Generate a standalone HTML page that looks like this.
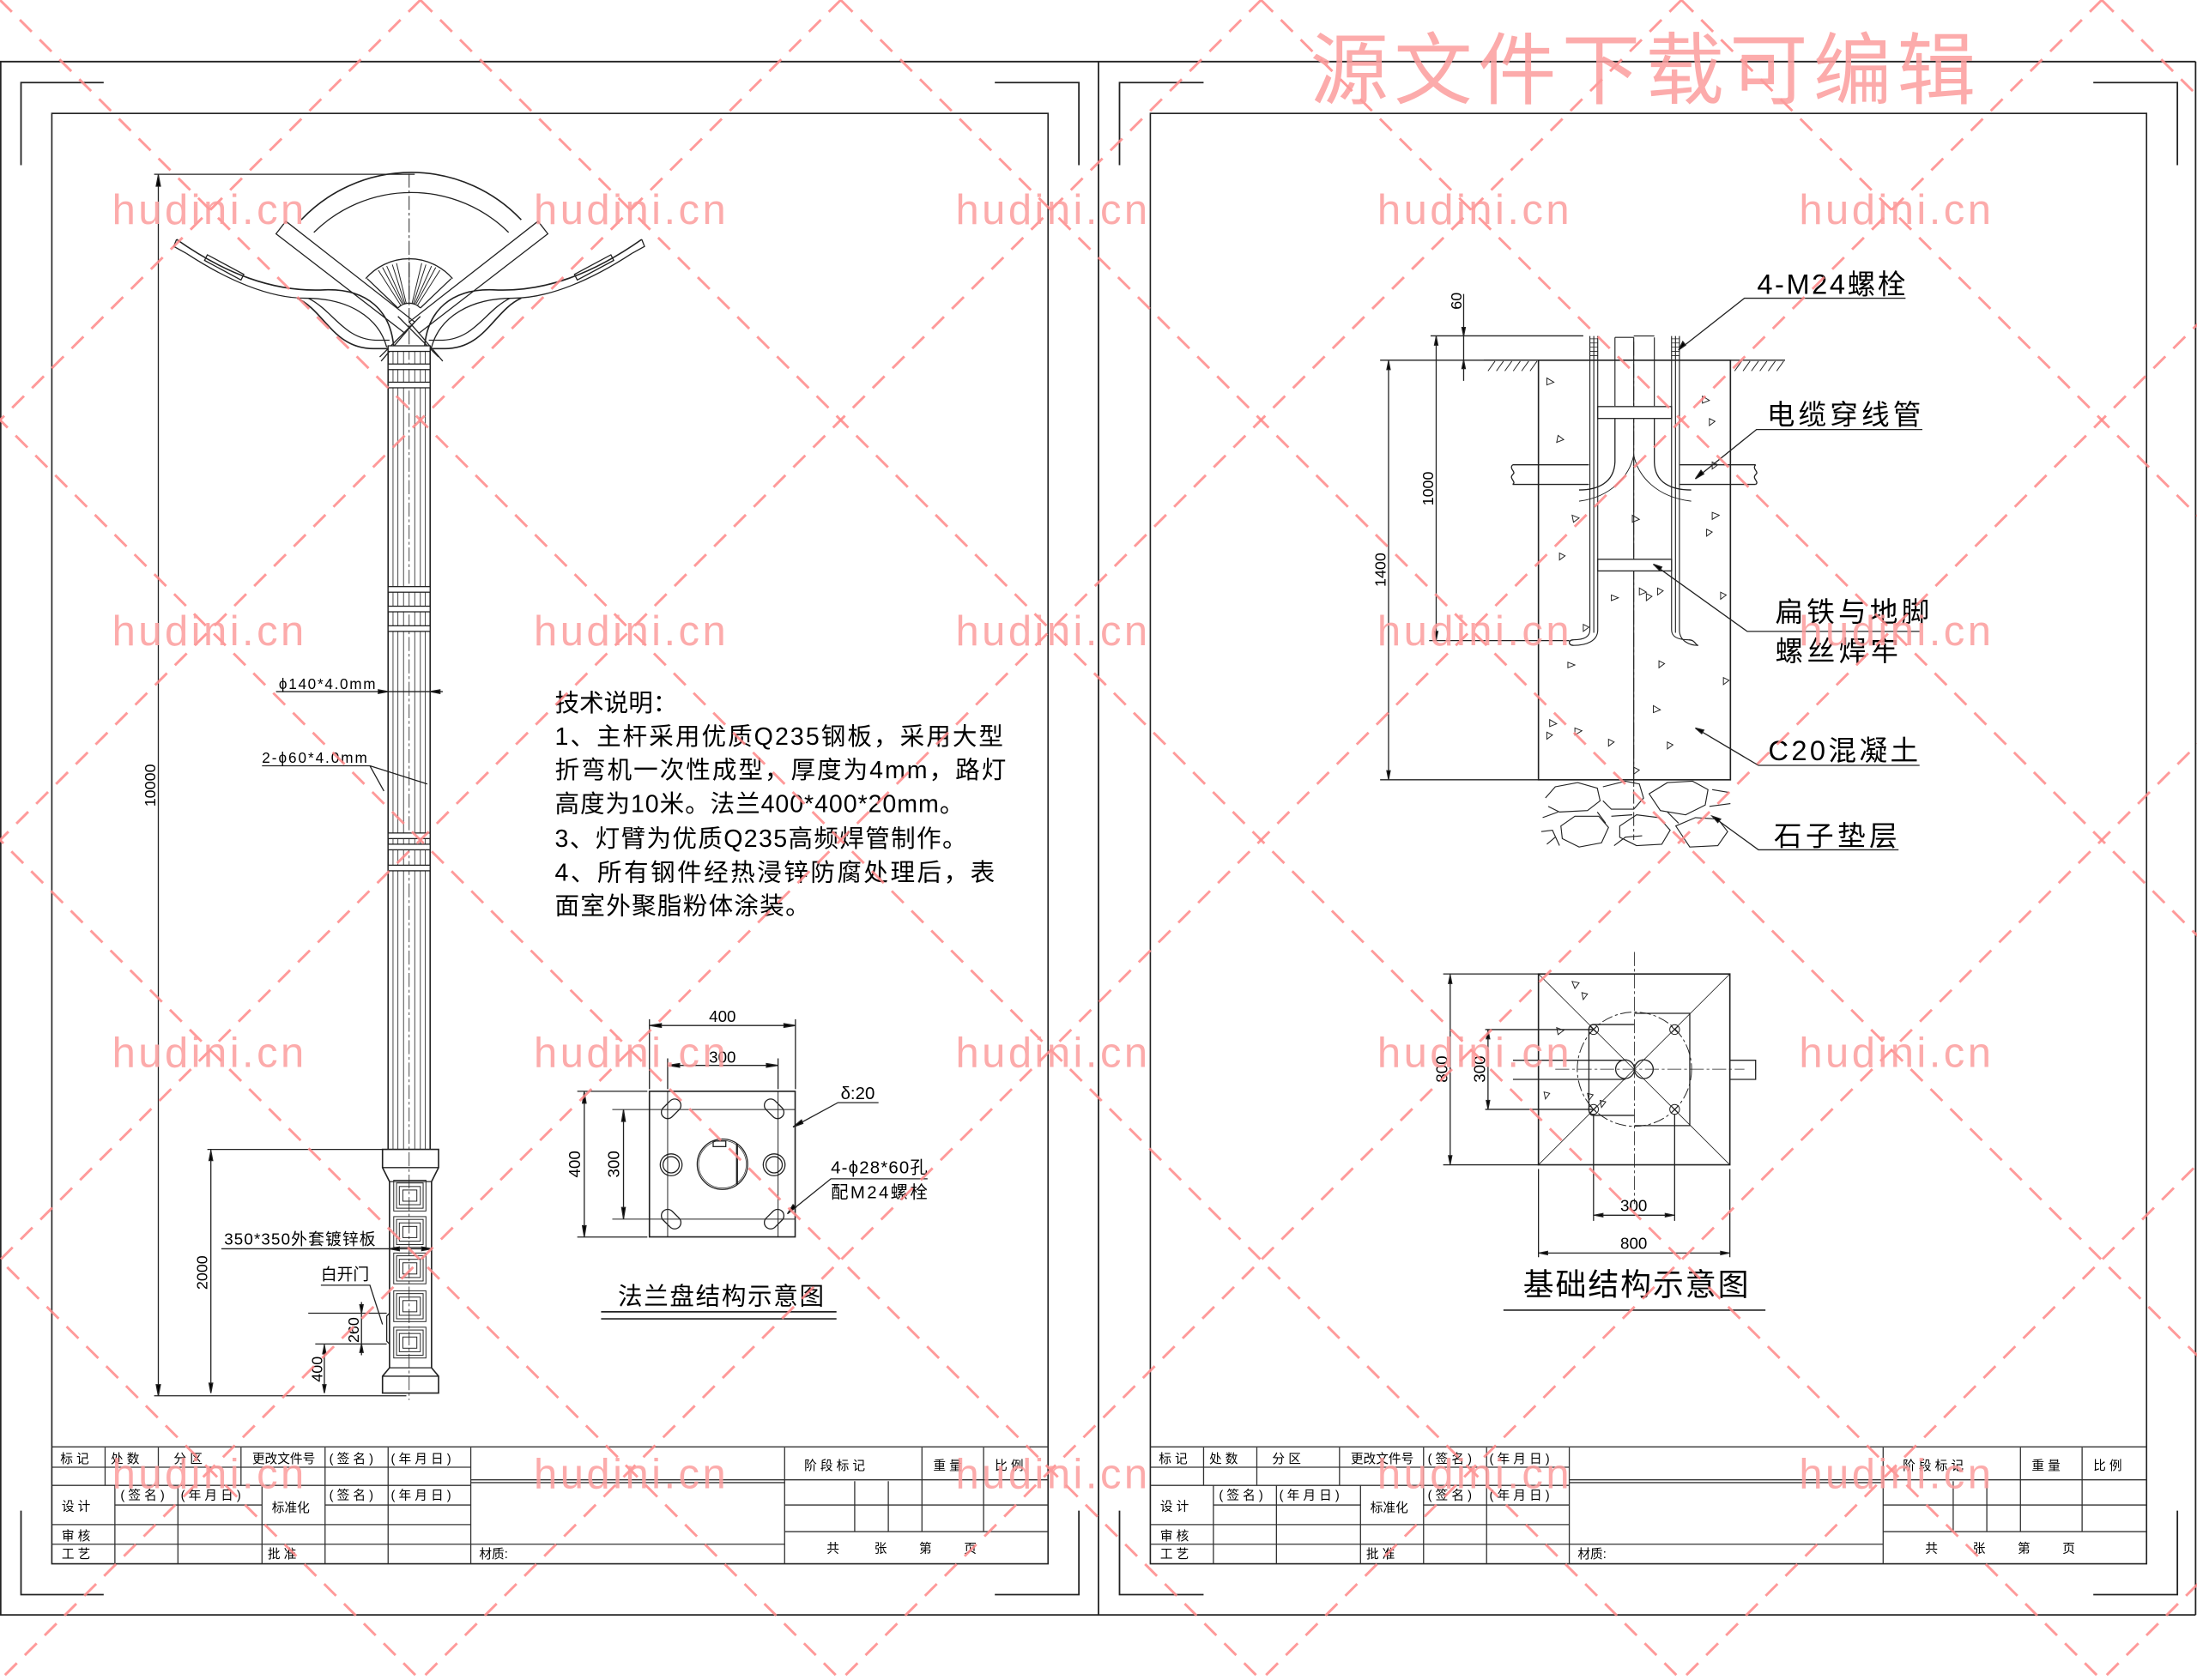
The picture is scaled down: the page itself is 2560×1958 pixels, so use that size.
<!DOCTYPE html>
<html><head><meta charset="utf-8"><style>
html,body{margin:0;padding:0;background:#fff;}
svg{display:block;}
text{font-family:"Liberation Sans","Noto Sans CJK SC",sans-serif;fill:#000;}
text.wm{fill:#fb9c9c;}
</style></head><body>
<svg width="2560" height="1958" viewBox="0 0 1568 1200" preserveAspectRatio="none" xmlns="http://www.w3.org/2000/svg">
<rect width="1568" height="1200" fill="#fff"/>
<g fill="none" stroke="#222" stroke-width="0.9">
<path d="M0,44 H1567 M0,1153.5 H1567 M0.5,44 V1153.5 M784,44 V1153.5 M1567,44 V1153.5" stroke-width="1.1"/>
<rect x="37" y="81" width="711" height="1036" stroke-width="1"/>
<rect x="821" y="81" width="711" height="1036" stroke-width="1"/>
<path d="M15,118 V59 H74 M710,59 H770 V118 M15,1079 V1139 H74 M710,1139 H770 V1079" stroke-width="1.1"/>
<path d="M799,118 V59 H859 M1494,59 H1554 V118 M799,1079 V1139 H859 M1494,1139 H1554 V1079" stroke-width="1.1"/>
</g>

<!-- TITLE BLOCK LEFT -->
<g fill="none" stroke="#333" stroke-width="0.8">
<path d="M37,1033.5 H748 M37,1048 H336 M37,1061 H336 M82,1075 H187 M232,1075 H336 M37,1089 H336 M37,1103 H560 M336,1057 H748 M336,1059 H560 M560,1075 H748 M560,1094 H748"/>
<path d="M75,1034 V1061 M113,1034 V1061 M172,1034 V1061 M232,1034 V1117 M277,1034 V1117 M336,1034 V1117 M560,1034 V1117 M82,1061 V1117 M127,1061 V1117 M187,1061 V1117 M610,1058 V1094 M634,1058 V1094 M658,1034 V1094 M702,1034 V1094"/>
</g>
<g font-size="9">
<text x="43" y="1045">标 记</text><text x="79" y="1045">处 数</text><text x="124" y="1045">分 区</text><text x="180" y="1045">更改文件号</text><text x="235" y="1045">( 签 名 )</text><text x="279" y="1045">( 年 月 日 )</text>
<text x="44" y="1079">设 计</text><text x="86" y="1071">( 签 名 )</text><text x="129" y="1071">( 年 月 日 )</text><text x="194" y="1080">标准化</text><text x="235" y="1071">( 签 名 )</text><text x="279" y="1071">( 年 月 日 )</text>
<text x="44" y="1100">审 核</text><text x="44" y="1113">工 艺</text><text x="191" y="1113">批 准</text><text x="342" y="1113">材质:</text>
<text x="574" y="1050">阶 段 标 记</text><text x="666" y="1050">重 量</text><text x="710" y="1050">比 例</text>
<text x="590" y="1109">共</text><text x="624" y="1109">张</text><text x="656" y="1109">第</text><text x="688" y="1109">页</text>
</g>
<!-- TITLE BLOCK RIGHT -->
<g transform="translate(784,0)">
<g fill="none" stroke="#333" stroke-width="0.8">
<path d="M37,1033.5 H748 M37,1048 H336 M37,1061 H336 M82,1075 H187 M232,1075 H336 M37,1089 H336 M37,1103 H560 M336,1057 H748 M336,1059 H560 M560,1075 H748 M560,1094 H748"/>
<path d="M75,1034 V1061 M113,1034 V1061 M172,1034 V1061 M232,1034 V1117 M277,1034 V1117 M336,1034 V1117 M560,1034 V1117 M82,1061 V1117 M127,1061 V1117 M187,1061 V1117 M610,1058 V1094 M634,1058 V1094 M658,1034 V1094 M702,1034 V1094"/>
</g>
<g font-size="9">
<text x="43" y="1045">标 记</text><text x="79" y="1045">处 数</text><text x="124" y="1045">分 区</text><text x="180" y="1045">更改文件号</text><text x="235" y="1045">( 签 名 )</text><text x="279" y="1045">( 年 月 日 )</text>
<text x="44" y="1079">设 计</text><text x="86" y="1071">( 签 名 )</text><text x="129" y="1071">( 年 月 日 )</text><text x="194" y="1080">标准化</text><text x="235" y="1071">( 签 名 )</text><text x="279" y="1071">( 年 月 日 )</text>
<text x="44" y="1100">审 核</text><text x="44" y="1113">工 艺</text><text x="191" y="1113">批 准</text><text x="342" y="1113">材质:</text>
<text x="574" y="1050">阶 段 标 记</text><text x="666" y="1050">重 量</text><text x="710" y="1050">比 例</text>
<text x="590" y="1109">共</text><text x="624" y="1109">张</text><text x="656" y="1109">第</text><text x="688" y="1109">页</text>
</g>
</g>

<!-- LAMP POLE -->
<g fill="none" stroke="#222" stroke-width="0.8">
<path d="M110,124.5 H296 M113,124.5 V997 M110,997 H290"/>
<path d="M113,125 l-1.5,8 h3 z M113,997 l-1.5,-8 h3 z" fill="#000"/>
<path d="M215,157 A108,108 0 0 1 372,157" stroke-width="1"/>
<path d="M224,166 A99,99 0 0 1 363,166"/>
<path d="M292,124 V250" stroke-dasharray="10 2 2 2" stroke-width="0.6"/>
<polygon points="197,167 204,158 296,230 289,238"/>
<polygon points="391,167 384,158 292,230 299,238"/>
<path d="M289,238 L272,258 M299,238 L316,258"/>
<path d="M271,255 L300,226 M313,255 L284,226"/>
<path d="M261,199 A41,41 0 0 1 323,199"/>
<path d="M284,220 A11,11 0 0 1 300,220"/>
<path d="M284,220 L262,199 M300,220 L322,199"/>
<path d="M286,218 L270,193 M288,217 L276,190 M290,217 L283,188 M292,217 L292,187 M294,217 L301,188 M296,217 L308,190 M298,218 L314,193 M287,217 L273,191 M289,217 L280,189 M295,217 L304,189 M297,217 L311,191" stroke-width="0.6"/>
<g>
<path d="M126,171 C160,195 195,209 232,207 C262,206 279,222 281,248" stroke-width="1"/>
<path d="M133,181 C162,200 192,213 218,213 C248,213 270,226 276,248"/>
<path d="M126,171 L124,176 L133,181"/>
<path d="M146,186 L172,200 L174,196 L148,182 Z"/>
<path d="M212,213 C232,222 238,250 268,249 L278,249" stroke-width="1"/>
<path d="M220,213 C238,222 245,242 268,243 L278,243"/>
</g>
<g transform="translate(584,0) scale(-1,1)">
<path d="M126,171 C160,195 195,209 232,207 C262,206 279,222 281,248" stroke-width="1"/>
<path d="M133,181 C162,200 192,213 218,213 C248,213 270,226 276,248"/>
<path d="M126,171 L124,176 L133,181"/>
<path d="M146,186 L172,200 L174,196 L148,182 Z"/>
<path d="M212,213 C232,222 238,250 268,249 L278,249" stroke-width="1"/>
<path d="M220,213 C238,222 245,242 268,243 L278,243"/>
</g>
<path d="M277,247 V821 M307,247 V821" stroke-width="1"/>
<path d="M280.5,247 V821 M284,247 V821 M288,247 V821 M296,247 V821 M300,247 V821 M303.5,247 V821" stroke-width="0.5"/>
<path d="M292,247 V1000" stroke-dasharray="10 2 2 2" stroke-width="0.5"/>
<g fill="#fff" stroke-width="0.8">
<rect x="277" y="247" width="30" height="4"/><rect x="277" y="260" width="30" height="4"/><rect x="277" y="273" width="30" height="4"/>
<rect x="277" y="419" width="30" height="4"/><rect x="277" y="433" width="30" height="4"/><rect x="277" y="447" width="30" height="4"/>
<rect x="277" y="595" width="30" height="4"/><rect x="277" y="603" width="30" height="4"/><rect x="277" y="618" width="30" height="4"/>
</g>
<path d="M273,821 H313 V834 L308,844 V977 L313,983 V995 H273 V983 L278,977 V844 L273,834 Z" stroke-width="1"/>
<path d="M273,834 H313 M278,844 H308 M278,977 H308 M273,983 H313"/>
<g stroke-width="0.6">
<rect x="281" y="843" width="23" height="22"/><rect x="283" y="845" width="19" height="18"/><rect x="285" y="847.5" width="15" height="13"/><rect x="287.5" y="850" width="10" height="8"/>
<rect x="281" y="869" width="23" height="22"/><rect x="283" y="871" width="19" height="18"/><rect x="285" y="873.5" width="15" height="13"/><rect x="287.5" y="876" width="10" height="8"/>
<rect x="281" y="895" width="23" height="22"/><rect x="283" y="897" width="19" height="18"/><rect x="285" y="899.5" width="15" height="13"/><rect x="287.5" y="902" width="10" height="8"/>
<rect x="281" y="922" width="23" height="22"/><rect x="283" y="924" width="19" height="18"/><rect x="285" y="926.5" width="15" height="13"/><rect x="287.5" y="929" width="10" height="8"/>
<rect x="281" y="948" width="23" height="22"/><rect x="283" y="950" width="19" height="18"/><rect x="285" y="952.5" width="15" height="13"/><rect x="287.5" y="955" width="10" height="8"/>
</g>
<path d="M278,938 L276,940 V958 L278,960"/>
<path d="M148,821 H273 M150.5,821 V995"/>
<path d="M150.5,822 l-1.3,7 h2.6 z M150.5,995 l-1.3,-7 h2.6 z" fill="#000"/>
<path d="M158,892 H303"/>
<path d="M278,892 l7,-1.3 v2.6 z M308,892 l-7,-1.3 v2.6 z" fill="#000"/>
<path d="M229,918 H264 L273,946"/>
<path d="M220,938 H276 M225,960 H276 M258,930 V968 M231.5,960 V995"/>
<path d="M258,938 l-1.2,-6 h2.4 z M258,960 l-1.2,6 h2.4 z M231.5,961 l-1.2,6 h2.4 z M231.5,995 l-1.2,-6 h2.4 z" fill="#000"/>
<path d="M197,494 H316"/>
<path d="M277,494 l-7,-1.3 v2.6 z M307,494 l7,-1.3 v2.6 z" fill="#000"/>
<path d="M187,547 H264 L274,565 M264,547 L305,560"/>
</g>
<g font-size="11">
<text transform="translate(111,561) rotate(-90)" text-anchor="middle">10000</text>
<text transform="translate(148,909) rotate(-90)" text-anchor="middle">2000</text>
<text transform="translate(256,950) rotate(-90)" text-anchor="middle">260</text>
<text transform="translate(230,978) rotate(-90)" text-anchor="middle">400</text>
<text x="199" y="492" font-size="10.5" textLength="69">ϕ140*4.0mm</text>
<text x="187" y="545" font-size="10.5" textLength="75">2-ϕ60*4.0mm</text>
<text x="160" y="889" font-size="11.5" textLength="108">350*350外套镀锌板</text>
<text x="229" y="914" font-size="11.5">白开门</text>
</g>

<g font-size="17.5">
<text x="396" y="508">技术说明：</text>
<text x="396" y="532" textLength="320">1、主杆采用优质Q235钢板，采用大型</text>
<text x="396" y="556" textLength="322">折弯机一次性成型，厚度为4mm，路灯</text>
<text x="396" y="580" textLength="292">高度为10米。法兰400*400*20mm。</text>
<text x="396" y="605" textLength="294">3、灯臂为优质Q235高频焊管制作。</text>
<text x="396" y="629" textLength="314">4、所有钢件经热浸锌防腐处理后，表</text>
<text x="396" y="653" textLength="182">面室外聚脂粉体涂装。</text>
</g>

<!-- FLANGE -->
<g fill="none" stroke="#222" stroke-width="0.8">
<rect x="463.5" y="779.5" width="104" height="104" stroke-width="1"/>
<path d="M476.5,779.5 V883.5 M555.3,779.5 V883.5 M437,792.5 H567.5 M437,870.8 H567.5" stroke-width="0.6"/>
<circle cx="515.6" cy="831.6" r="18"/><circle cx="515.6" cy="831.6" r="17" stroke-width="0.4"/>
<rect x="509" y="815" width="9" height="4"/>
<path d="M526,817 V846" stroke-width="1.4"/>
<circle cx="479" cy="832" r="7.8"/><circle cx="479" cy="832" r="5.8"/>
<circle cx="552.5" cy="832" r="7.8"/><circle cx="552.5" cy="832" r="5.8"/>
<g transform="translate(479,792) rotate(-45)"><rect x="-8" y="-4.5" width="16" height="9" rx="4.5"/></g>
<g transform="translate(552.5,792) rotate(45)"><rect x="-8" y="-4.5" width="16" height="9" rx="4.5"/></g>
<g transform="translate(479,870.8) rotate(45)"><rect x="-8" y="-4.5" width="16" height="9" rx="4.5"/></g>
<g transform="translate(552.5,870.8) rotate(-45)"><rect x="-8" y="-4.5" width="16" height="9" rx="4.5"/></g>
<path d="M463.5,728 V778 M567.7,728 V778 M476.5,756 V778 M555.3,756 V778 M463.5,732.5 H567.7 M476.5,761 H555.3 M412,779.5 H462 M412,883.6 H462 M417,779.5 V883.6 M445,792.5 V870.8"/>
<path d="M464,732.5 l8,-1.3 v2.6 z M567.5,732.5 l-8,-1.3 v2.6 z M477,761 l8,-1.3 v2.6 z M555,761 l-8,-1.3 v2.6 z" fill="#000"/>
<path d="M417,780 l-1.3,8 h2.6 z M417,883.5 l-1.3,-8 h2.6 z M445,793 l-1.3,8 h2.6 z M445,870.5 l-1.3,-8 h2.6 z" fill="#000"/>
<path d="M627,787.6 H598 L566,805 M662,842 H593 L562,867"/>
<path d="M566,805 l6,-5 l1,2.5 z M562,867 l4,-6.5 l2,2 z" fill="#000"/>
<path d="M429,937 H597 M429,942 H597" stroke-width="1"/>
</g>
<g font-size="11.5">
<text x="515.6" y="730" text-anchor="middle">400</text>
<text x="515.6" y="759" text-anchor="middle">300</text>
<text transform="translate(414,831.6) rotate(-90)" text-anchor="middle">400</text>
<text transform="translate(442,831.6) rotate(-90)" text-anchor="middle">300</text>
<text x="600" y="785" font-size="12.5">δ:20</text>
<text x="593" y="838" font-size="12.5" textLength="69">4-ϕ28*60孔</text>
<text x="593" y="856" font-size="12.5" textLength="69">配M24螺栓</text>
<text x="441" y="932" font-size="17.5" textLength="147">法兰盘结构示意图</text>
</g>

<!-- FOUNDATION SECTION -->
<g fill="none" stroke="#222" stroke-width="0.8">
<rect x="1098" y="257.3" width="137" height="299.7" stroke-width="1"/>
<path d="M1166,244 V600" stroke-dasharray="10 2 2 2" stroke-width="0.6"/>
<path d="M1059,257.3 H1098 M1235,257.3 H1274"/>
<path d="M1062,265 l5,-7 M1068,265 l5,-7 M1074,265 l5,-7 M1080,265 l5,-7 M1086,265 l5,-7 M1092,265 l5,-7 M1238,265 l5,-7 M1244,265 l5,-7 M1250,265 l5,-7 M1256,265 l5,-7 M1262,265 l5,-7 M1268,265 l5,-7" stroke-width="0.6"/>
<path d="M1152.6,241 V290 M1180.7,241 V290 M1166,241 V560 M1152.6,241 h13.4 M1166,240 h14.7" stroke-width="0.7"/>
<path d="M1152.6,299 V330 C1152,345 1140,350 1127,350 M1180.7,299 V330 C1181,345 1193,350 1207,350"/>
<path d="M1166,325 C1163,340 1150,355 1127,358 M1166,325 C1169,340 1182,355 1207,358" stroke-width="0.6"/>
<path d="M1134.7,240 V450 C1134.7,455 1130,457 1123,457 M1140.3,240 V450 C1140.3,458 1132,461 1123,461 M1137.5,240 V452" stroke-width="0.7"/>
<path d="M1193,240 V450 C1193,455 1198,457 1205,457 M1198.6,240 V450 C1198.6,458 1206,461 1212,461 M1195.8,240 V452" stroke-width="0.7"/>
<path d="M1123,457 C1119,457 1119,461 1123,461 M1205,457 C1210,457 1210,461 1212,461"/>
<path d="M1134.7,242 h5.6 M1134.7,245 h5.6 M1134.7,248 h5.6 M1134.7,251 h5.6 M1134.7,254 h5.6 M1193,242 h5.6 M1193,245 h5.6 M1193,248 h5.6 M1193,251 h5.6 M1193,254 h5.6" stroke-width="0.5"/>
<rect x="1140.3" y="290.4" width="52.7" height="8.5" fill="#fff"/>
<rect x="1140.3" y="399.5" width="52.7" height="8.3" fill="#fff"/>
<path d="M1079.6,332 H1134 M1079.6,346 H1134 M1199,332 H1253 M1199,346 H1253"/>
<path d="M1079.6,332 c-3,3 3,5 0,7 c-3,3 3,5 0,7 M1253,332 c-3,3 3,5 0,7 c-3,3 3,5 0,7"/>
<!-- gravel dense -->
<g stroke-width="0.7">
<path d="M1103,570 L1110,562 L1126,559 L1140,563 L1142,572 L1133,579 L1113,580 L1105,576"/>
<path d="M1101,584 L1112,580 M1100,594 L1108,593 L1113,604 M1104,603 L1110,598"/>
<path d="M1114,590 L1124,583 L1141,583 L1148,591 L1143,602 L1127,605 L1115,599 Z"/>
<path d="M1144,562 L1160,558 L1170,560 L1173,570 L1166,578 L1150,578 L1144,572"/>
<path d="M1150,583 L1165,582 M1152,604 L1160,598 L1172,597"/>
<path d="M1156,590 L1168,582 L1184,584 L1192,593 L1186,603 L1168,604 L1156,598 Z"/>
<path d="M1177,567 L1190,559 L1208,558 L1219,564 L1217,575 L1203,582 L1185,579 Z"/>
<path d="M1196,590 L1210,584 L1226,585 L1233,594 L1226,604 L1206,605 Z"/>
<path d="M1220,576 L1235,574 M1222,564 L1234,566 M1190,580 L1198,588 M1140,580 L1146,588"/>
</g>
<path d="M1021,239.9 H1130 M1044.6,210 V272 M1040,257.3 H1098 M1025,239.9 V457.6 M1020,457.6 H1120 M991,257.3 V557 M985,257.3 H1040 M985,557 H1098"/>
<path d="M1044.6,239.9 l-1.2,-6 h2.4 z M1044.6,257.3 l-1.2,6 h2.4 z M1025,240.5 l-1.2,6 h2.4 z M1025,457 l-1.2,-6 h2.4 z M991,258 l-1.2,6 h2.4 z M991,556.5 l-1.2,-6 h2.4 z" fill="#000"/>
<path d="M1360,213 H1245 L1198,250 M1372,306.8 H1253.6 L1210,342 M1370,451 H1247 L1180,403 M1370,546.7 H1255 L1210,520 M1355,607 H1255 L1222,583" stroke-width="0.8"/>
<path d="M1198,250 l3,-6 l2,2.5 z M1210,342 l4,-6 l2,2.5 z M1180,403 l6,2 l-1.5,2.5 z M1210,520 l6,1.5 l-1.5,2.5 z M1222,583 l6,2 l-2,2.5 z" fill="#000"/>
<g stroke-width="0.6">
<path d="M1104,270 l5,3 l-5,2 z M1112,311 l4,3 l-5,2 z M1122,368 l5,2 l-4,3 z M1113,395 l4,2 l-4,3 z M1130,446 l4,2 l-4,3 z M1119,473 l5,2 l-5,2 z M1106,514 l5,3 l-5,2 z M1104,523 l4,2 l-4,3 z M1124,520 l5,2 l-5,3 z M1148,528 l4,2 l-4,3 z M1150,425 l5,2 l-5,2 z M1165,368 l5,3 l-5,2 z M1170,420 l5,3 l-5,2 z M1175,424 l4,2 l-4,3 z M1180,504 l5,3 l-5,2 z M1183,420 l4,2 l-4,3 z M1215,283 l5,3 l-5,2 z M1220,299 l4,2 l-4,3 z M1222,330 l4,2 l-4,3 z M1222,366 l5,2 l-5,3 z M1218,378 l4,2 l-4,3 z M1228,423 l4,2 l-4,3 z M1184,472 l4,2 l-4,3 z M1190,530 l4,2 l-4,3 z M1230,484 l4,2 l-4,3 z M1166,548 l4,2 l-4,3 z"/>
</g>
</g>
<g font-size="11">
<text transform="translate(1043,215) rotate(-90)" text-anchor="middle">60</text>
<text transform="translate(1023,349) rotate(-90)" text-anchor="middle">1000</text>
<text transform="translate(989,407) rotate(-90)" text-anchor="middle">1400</text>
</g>
<g font-size="20">
<text x="1254" y="210" textLength="106">4-M24螺栓</text>
<text x="1261" y="303" textLength="110">电缆穿线管</text>
<text x="1267" y="444" textLength="110">扁铁与地脚</text>
<text x="1267" y="472" textLength="88">螺丝焊牢</text>
<text x="1262" y="543" textLength="107">C20混凝土</text>
<text x="1266" y="604" textLength="88">石子垫层</text>
</g>

<!-- FOUNDATION PLAN -->
<g fill="none" stroke="#222" stroke-width="0.8">
<rect x="1098" y="695.7" width="136.6" height="136.3" stroke-width="1"/>
<path d="M1098,695.7 L1234.6,832 M1234.6,695.7 L1098,832" stroke-width="0.5"/>
<path d="M1166.5,680 V860 M1110,763.7 H1245" stroke-dasharray="10 2 2 2" stroke-width="0.5"/>
<circle cx="1166.5" cy="763.7" r="40.8" stroke-dasharray="8 2 2 2" stroke-width="0.6"/>
<path d="M1166.5,723.8 H1206 V804 H1166.5 M1166.5,731.8 H1137 Q1134,732 1134,736 V792 Q1134,796.7 1137,796.7 H1166.5"/>
<path d="M1079.8,757.3 H1160 M1079.8,771 H1160 M1234.6,757.3 H1253 V771 H1234.6"/>
<circle cx="1159.8" cy="763.7" r="6.7"/><circle cx="1173.2" cy="763.7" r="6.7"/>
<g stroke-width="0.6">
<circle cx="1137.3" cy="735.4" r="3.5"/><path d="M1134.8,732.9 l5,5 m0,-5 l-5,5"/>
<circle cx="1195.2" cy="735.4" r="3.5"/><path d="M1192.7,732.9 l5,5 m0,-5 l-5,5"/>
<circle cx="1137.3" cy="792.4" r="3.5"/><path d="M1134.8,789.9 l5,5 m0,-5 l-5,5"/>
<circle cx="1195.2" cy="792.4" r="3.5"/><path d="M1192.7,789.9 l5,5 m0,-5 l-5,5"/>
<path d="M1122,701 l5,1 l-3,4 z M1129,709 l4,1 l-3,4 z M1111,734 l5,2 l-4,3 z M1102,780 l4,1 l-3,4 z M1133,781 l4,1 l-3,4 z M1142,786 l4,1 l-3,4 z"/>
</g>
<path d="M1030,695.7 H1098 M1030,832 H1098 M1035,695.7 V832 M1060,735.4 H1137 M1060,792.4 H1137 M1062,735.4 V792.4"/>
<path d="M1137.3,796 V872 M1195.2,796 V872 M1137.3,868 H1195.2 M1098,835 V898 M1234.6,835 V898 M1098,895 H1234.6"/>
<path d="M1035,696.5 l-1.2,6 h2.4 z M1035,831.5 l-1.2,-6 h2.4 z M1062,736 l-1.2,6 h2.4 z M1062,792 l-1.2,-6 h2.4 z M1138,868 l6,-1.2 v2.4 z M1194.5,868 l-6,-1.2 v2.4 z M1098.5,895 l6,-1.2 v2.4 z M1234,895 l-6,-1.2 v2.4 z" fill="#000"/>
<path d="M1073,935.8 H1260" stroke-width="1"/>
</g>
<g font-size="11.5">
<text transform="translate(1033,763.7) rotate(-90)" text-anchor="middle">800</text>
<text transform="translate(1060,763.7) rotate(-90)" text-anchor="middle">300</text>
<text x="1166" y="865" text-anchor="middle">300</text>
<text x="1166" y="892" text-anchor="middle">800</text>
<text x="1087" y="925" font-size="22" textLength="161">基础结构示意图</text>
</g>

<!-- WATERMARK -->
<g stroke="#f88" stroke-opacity="0.85" stroke-width="1.8" stroke-dasharray="12 8" fill="none">
<path d="M-1200,0 L0,1200 M-900,0 L300,1200 M-600,0 L600,1200 M-300,0 L900,1200 M0,0 L1200,1200 M300,0 L1500,1200 M600,0 L1800,1200 M900,0 L2100,1200 M1200,0 L2400,1200 M1500,0 L2700,1200"/>
<path d="M300,0 L-900,1200 M600,0 L-600,1200 M900,0 L-300,1200 M1200,0 L0,1200 M1500,0 L300,1200 M1800,0 L600,1200 M2100,0 L900,1200 M2400,0 L1200,1200 M2700,0 L1500,1200"/>
</g>
<g font-size="30" fill-opacity="0.85">
<text class="wm" x="80" y="160" textLength="137">hudini.cn</text><text class="wm" x="381" y="160" textLength="137">hudini.cn</text><text class="wm" x="682" y="160" textLength="137">hudini.cn</text><text class="wm" x="983" y="160" textLength="137">hudini.cn</text><text class="wm" x="1284" y="160" textLength="137">hudini.cn</text>
<text class="wm" x="80" y="461" textLength="137">hudini.cn</text><text class="wm" x="381" y="461" textLength="137">hudini.cn</text><text class="wm" x="682" y="461" textLength="137">hudini.cn</text><text class="wm" x="983" y="461" textLength="137">hudini.cn</text><text class="wm" x="1284" y="461" textLength="137">hudini.cn</text>
<text class="wm" x="80" y="762" textLength="137">hudini.cn</text><text class="wm" x="381" y="762" textLength="137">hudini.cn</text><text class="wm" x="682" y="762" textLength="137">hudini.cn</text><text class="wm" x="983" y="762" textLength="137">hudini.cn</text><text class="wm" x="1284" y="762" textLength="137">hudini.cn</text>
<text class="wm" x="80" y="1063" textLength="137">hudini.cn</text><text class="wm" x="381" y="1063" textLength="137">hudini.cn</text><text class="wm" x="682" y="1063" textLength="137">hudini.cn</text><text class="wm" x="983" y="1063" textLength="137">hudini.cn</text><text class="wm" x="1284" y="1063" textLength="137">hudini.cn</text>
</g>
<text class="wm" x="935" y="70" font-size="56" textLength="475" fill-opacity="0.85">源文件下载可编辑</text>
</svg>
</body></html>
